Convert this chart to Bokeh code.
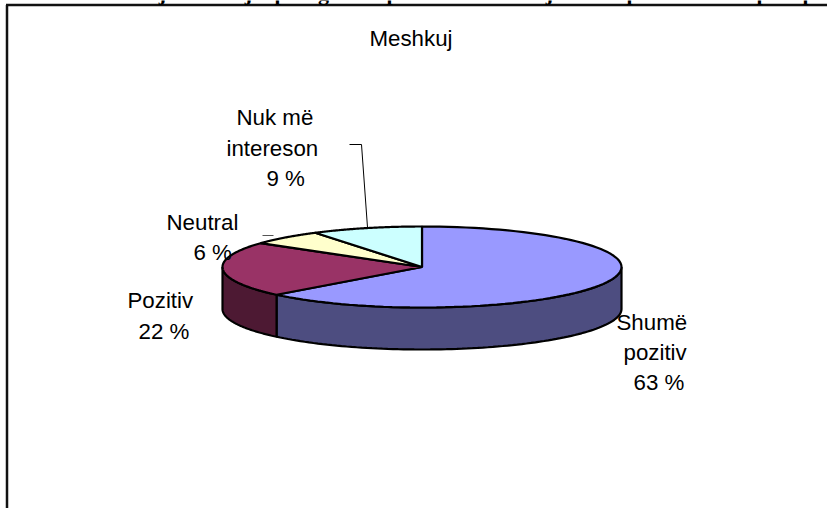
import numpy as np
from bokeh.core.properties import value
from bokeh.embed import file_html
from bokeh.models import ColumnDataSource
from bokeh.plotting import figure
from bokeh.resources import INLINE

# Survey answers, in drawing order clockwise from twelve o'clock
categories = ["Shumë pozitiv", "Pozitiv", "Neutral", "Nuk më intereson"]
shares = [63, 22, 6, 9]
top_colors = ["#9999FF", "#993366", "#FFFFCC", "#CCFFFF"]
side_colors = ["#4D4D80", "#4D1933", "#808066", "#668080"]

title = "Meshkuj"
label_lines = [
    ["Shumë", "pozitiv", f"{shares[0]} %"],
    ["Pozitiv", f"{shares[1]} %"],
    ["Neutral", f"{shares[2]} %"],
    ["Nuk më", "intereson", f"{shares[3]} %"],
]
label_lefts = [[616, 623, 633], [127, 138], [166, 193], [236, 226, 266]]
label_baselines = [[329, 359, 389], [307, 338], [229, 259], [124, 155, 185]]

# Descenders of the line of body text cut off by the upper page edge
clipped_chars = ["j", "j", "p", "g", "p", "j", "p", "p", "p"]
clipped_x = [162, 248, 280, 323, 392, 549, 632, 762, 808]

W, H = 827, 508
CX, CY, RX, RY, DEPTH = 421.5, 266.5, 199.5, 40.5, 42
FONT = "Liberation Sans"
SIZE = "22.3px"
# Distance from a text's vertical middle to its baseline
MID_TO_BASE = 7.5

p = figure(width=W, height=H, x_range=(0, W), y_range=(H, 0),
           output_backend="svg", toolbar_location=None,
           min_border=0, outline_line_color=None, background_fill_color="white")
p.xaxis.visible = False
p.yaxis.visible = False
p.grid.visible = False


def rim(start, end, n=90):
    """Points on the upper rim between two clockwise angles (degrees)."""
    t = np.radians(np.linspace(start, end, n))
    return CX + RX * np.sin(t), CY - RY * np.cos(t)


edges = np.concatenate([[0], np.cumsum(shares)]) * 360 / sum(shares)

# Side wall: only the part of each slice that faces the viewer
for start, end, color in zip(edges[:-1], edges[1:], side_colors):
    a, b = max(start, 90), min(end, 270)
    if a >= b:
        continue
    x, y = rim(a, b)
    p.patch(np.concatenate([x, x[::-1]]), np.concatenate([y, y[::-1] + DEPTH]),
            fill_color=color, line_color="black", line_width=2.2)

# Top face of each slice
for start, end, color in zip(edges[:-1], edges[1:], top_colors):
    x, y = rim(start, end)
    p.patch(np.concatenate([[CX], x]), np.concatenate([[CY], y]),
            fill_color=color, line_color="black", line_width=2.2)

# Leader lines for the two small slices
p.line([349, 361, 367], [144, 144, 227], line_color="black", line_width=1)
p.line([262, 273], [235, 235], line_color="#555555", line_width=1)

# Chart frame, open to the right and at the bottom
p.segment([6.5, 5.5], [H, 4.5], [6.5, W], [4.5, 4.5], line_color="#111111", line_width=2.5)

rows = [(t, x, y)
        for ts, xs, ys in zip(label_lines, label_lefts, label_baselines)
        for t, x, y in zip(ts, xs, ys)]
rows.append((title, 369, 45))
src = ColumnDataSource(dict(text=[r[0] for r in rows],
                            x=[r[1] for r in rows],
                            y=[r[2] - MID_TO_BASE for r in rows]))
p.text("x", "y", text="text", source=src, text_font=value(FONT),
       text_font_size=SIZE, text_color="black",
       text_align="left", text_baseline="alphabetic")

p.text(clipped_x, [-8] * len(clipped_x), text=clipped_chars,
       text_font=value("Liberation Serif"), text_font_style="bold",
       text_font_size="22px", text_color="black",
       text_align="center", text_baseline="alphabetic")

open("out.html", "w").write(file_html(p, INLINE))
